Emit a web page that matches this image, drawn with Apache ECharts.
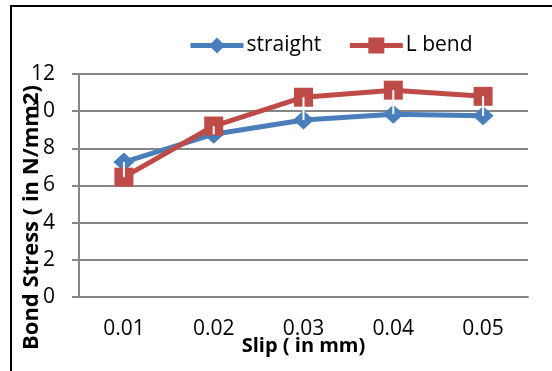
<!DOCTYPE html>
<html>
<head>
<meta charset="utf-8">
<script src="https://cdn.jsdelivr.net/npm/echarts@6/dist/echarts.min.js"></script>
<style>
  html, body { margin: 0; padding: 0; background: #fff; }
  #chart { width: 552px; height: 371px; }
</style>
</head>
<body>
<div id="chart"></div>
<script>
// data
var slip = ['0.01', '0.02', '0.03', '0.04', '0.05'];
var straight = [7.26, 8.76, 9.52, 9.84, 9.75];
var lBend = [6.45, 9.2, 10.75, 11.13, 10.8];

var myChart = echarts.init(document.getElementById('chart'));
var font = 'Open Sans, Liberation Sans, sans-serif';

// white high-low lines between the two series
var hiLo = slip.map(function (s, i) { return [i, straight[i], lBend[i]]; });

myChart.setOption({
    animation: false,
    textStyle: { fontFamily: font },
    graphic: [
        { type: 'line', shape: { x1: 11, y1: 6, x2: 11, y2: 371 }, style: { stroke: '#000', lineWidth: 2 } },
        { type: 'line', shape: { x1: 10, y1: 6, x2: 552, y2: 6 }, style: { stroke: '#000', lineWidth: 2 } }
    ],
    legend: {
        top: 30,
        left: 183,
        itemWidth: 53,
        itemHeight: 20,
        itemGap: 26,
        lineStyle: { width: 5 },
        textStyle: { fontSize: 21, color: '#000', fontFamily: font, padding: [0, 0, 0, -2] },
        data: ['straight', 'L bend']
    },
    grid: { left: 79, right: 24, top: 74, bottom: 74, containLabel: false, outerBoundsMode: 'none' },
    xAxis: {
        type: 'category',
        data: slip,
        boundaryGap: true,
        axisLine: { lineStyle: { color: '#868686', width: 2 } },
        axisTick: { show: false },
        axisLabel: { color: '#000', fontSize: 21, margin: 22 },
        name: 'Slip ( in mm)',
        nameLocation: 'middle',
        nameGap: 39,
        nameMoveOverlap: false,
        nameTextStyle: { fontWeight: 'bold', fontSize: 20, color: '#000' }
    },
    yAxis: {
        type: 'value',
        min: 0,
        max: 12,
        interval: 2,
        axisLine: { show: true, lineStyle: { color: '#868686', width: 2 } },
        axisTick: { show: true, length: 7, lineStyle: { color: '#868686', width: 2 } },
        splitLine: { lineStyle: { color: '#868686', width: 2 } },
        axisLabel: { color: '#000', fontSize: 21, margin: 24 },
        name: 'Bond Stress ( in N/mm2)',
        nameLocation: 'middle',
        nameGap: 36,
        nameMoveOverlap: false,
        nameTextStyle: { fontWeight: 'bold', fontSize: 22, color: '#000', padding: [0, 64, 0, 0] }
    },
    series: [
        {
            name: 'straight',
            type: 'line',
            data: straight,
            symbol: 'diamond',
            symbolSize: [21, 19],
            lineStyle: { width: 5, color: '#4a7ebb' },
            itemStyle: { color: '#4a7ebb' }
        },
        {
            name: 'L bend',
            type: 'line',
            data: lBend,
            symbol: 'rect',
            symbolSize: 19,
            lineStyle: { width: 5, color: '#be4b48' },
            itemStyle: { color: '#be4b48' }
        },
        {
            name: 'hilo',
            type: 'custom',
            data: hiLo,
            encode: { x: 0, y: [1, 2] },
            z: 5,
            silent: true,
            renderItem: function (params, api) {
                var a = api.coord([api.value(0), api.value(1)]);
                var b = api.coord([api.value(0), api.value(2)]);
                return {
                    type: 'line',
                    shape: { x1: a[0], y1: a[1], x2: b[0], y2: b[1] },
                    style: { stroke: '#fff', lineWidth: 2 }
                };
            }
        }
    ]
});
</script>
</body>
</html>
